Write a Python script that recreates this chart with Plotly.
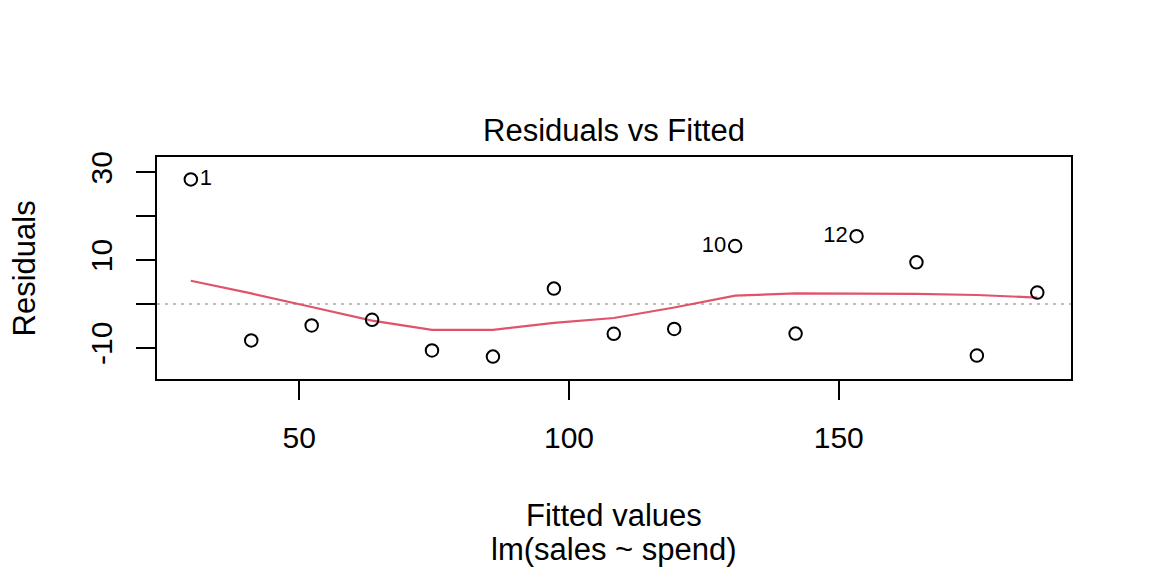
import plotly.graph_objects as go

# ---- data ----
fitted = [29.9, 41.1, 52.3, 63.5, 74.6, 85.9, 97.2, 108.3, 119.5, 130.8, 142.0, 153.3, 164.4, 175.6, 186.8]
residuals = [28.4, -8.3, -4.9, -3.6, -10.6, -12.0, 3.5, -6.8, -5.7, 13.2, -6.75, 15.45, 9.5, -11.75, 2.6]
smooth = [5.3, 2.4, -0.7, -3.8, -5.9, -5.9, -4.3, -3.2, -0.8, 1.9, 2.4, 2.35, 2.3, 2.05, 1.45]
point_labels = ["1", "", "", "", "", "", "", "", "", "10", "", "12", "", "", ""]
label_pos = ["middle right"] * 9 + ["middle left"] * 6
x_ticks = [50, 100, 150]
y_ticks = [-10, 0, 10, 20, 30]
y_ticktext = ["-10", "", "10", "", "30"]

FONT = "Liberation Sans, Arial, sans-serif"

fig = go.Figure()

fig.add_hline(y=0, line=dict(color="#BEBEBE", width=2, dash="3px,5px"), layer="below")

fig.add_trace(go.Scatter(
    x=fitted, y=smooth, mode="lines",
    line=dict(color="#DF536B", width=2.2),
    hoverinfo="skip", showlegend=False,
))

fig.add_trace(go.Scatter(
    x=fitted, y=residuals, mode="markers+text",
    text=point_labels, textposition=label_pos,
    textfont=dict(family=FONT, size=22, color="black"),
    marker=dict(symbol="circle-open", size=12.5, color="black", line=dict(width=2, color="black")),
    showlegend=False,
))

axis_common = dict(
    showline=True, linecolor="black", linewidth=2, mirror=True,
    ticks="outside", ticklen=19, tickwidth=2, tickcolor="black",
    showgrid=False, zeroline=False,
    tickfont=dict(family=FONT, size=30, color="black"),
)

fig.update_xaxes(range=[23.63, 193.05], tickvals=x_ticks, ticktext=[str(v) for v in x_ticks],
                 ticklabelstandoff=12, **axis_common)
fig.update_yaxes(range=[-17.1, 33.5], tickvals=y_ticks, ticktext=y_ticktext,
                 tickangle=-90, ticklabelstandoff=12, **axis_common)

anno_font = dict(family=FONT, size=31, color="black")
fig.update_layout(
    width=1152, height=576,
    margin=dict(l=149, r=89, t=149, b=205),
    plot_bgcolor="white", paper_bgcolor="white",
    annotations=[
        dict(text="Residuals vs Fitted", xref="paper", yref="paper", x=0.5, y=1.12,
             xanchor="center", yanchor="middle", showarrow=False, font=anno_font),
        dict(text="Fitted values", xref="paper", yref="paper", x=0.5, y=-0.614,
             xanchor="center", yanchor="middle", showarrow=False, font=anno_font),
        dict(text="lm(sales ~ spend)", xref="paper", yref="paper", x=0.5, y=-0.767,
             xanchor="center", yanchor="middle", showarrow=False, font=anno_font),
        dict(text="Residuals", xref="paper", yref="paper", x=-0.145, y=0.5,
             xanchor="center", yanchor="middle", textangle=-90, showarrow=False, font=anno_font),
    ],
)

fig.write_html("out.html")
